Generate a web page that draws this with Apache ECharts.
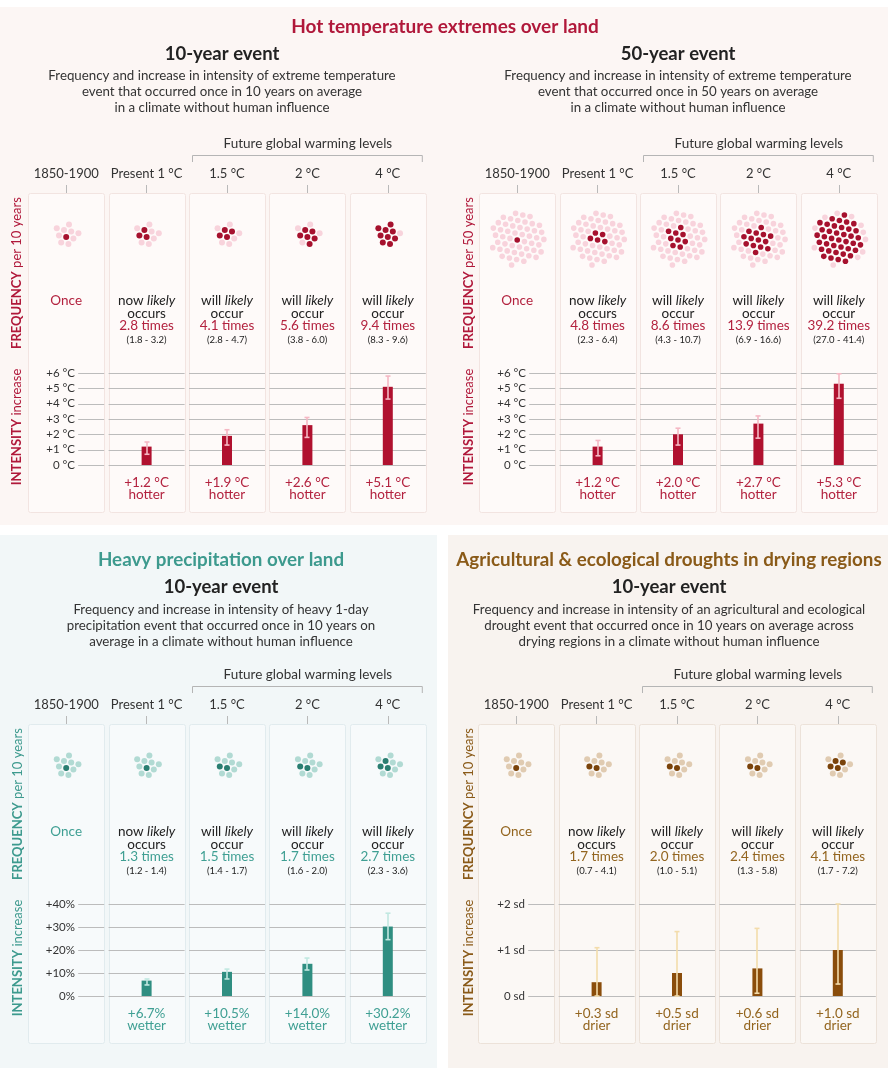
<!DOCTYPE html>
<html><head><meta charset="utf-8">
<script src="https://cdn.jsdelivr.net/npm/echarts@6/dist/echarts.min.js"></script>
<style>html,body{margin:0;padding:0;background:#fff;}#c{width:891px;height:1072px;}</style>
</head><body><div id="c"></div>
<script>
// ---------- DATA ----------
const columns = ['1850-1900', 'Present 1 °C', '1.5 °C', '2 °C', '4 °C'];

// Hot temperature extremes over land, 10-year event
const hot10Freq = [1, 2.8, 4.1, 5.6, 9.4];
const hot10FreqLow = [null, 1.8, 2.8, 3.8, 8.3];
const hot10FreqHigh = [null, 3.2, 4.7, 6.0, 9.6];
const hot10Int = [null, 1.2, 1.9, 2.6, 5.1];
const hot10IntLow = [null, 0.7, 1.3, 1.8, 4.3];
const hot10IntHigh = [null, 1.5, 2.3, 3.1, 5.8];

// Hot temperature extremes over land, 50-year event
const hot50Freq = [1, 4.8, 8.6, 13.9, 39.2];
const hot50FreqLow = [null, 2.3, 4.3, 6.9, 27.0];
const hot50FreqHigh = [null, 6.4, 10.7, 16.6, 41.4];
const hot50Int = [null, 1.2, 2.0, 2.7, 5.3];
const hot50IntLow = [null, 0.6, 1.3, 1.75, 4.35];
const hot50IntHigh = [null, 1.6, 2.4, 3.2, 5.95];

// Heavy precipitation over land, 10-year event
const precipFreq = [1, 1.3, 1.5, 1.7, 2.7];
const precipFreqLow = [null, 1.2, 1.4, 1.6, 2.3];
const precipFreqHigh = [null, 1.4, 1.7, 2.0, 3.6];
const precipInt = [null, 6.7, 10.5, 14.0, 30.2];
const precipIntLow = [null, 4.8, 7.4, 11.3, 24.5];
const precipIntHigh = [null, 7.4, 11.7, 16.5, 36.0];

// Agricultural & ecological droughts, 10-year event
const droughtFreq = [1, 1.7, 2.0, 2.4, 4.1];
const droughtFreqLow = [null, 0.7, 1.0, 1.3, 1.7];
const droughtFreqHigh = [null, 4.1, 5.1, 5.8, 7.2];
const droughtInt = [null, 0.3, 0.5, 0.6, 1.0];
const droughtIntLow = [null, 0.0, 0.0, 0.06, 0.26];
const droughtIntHigh = [null, 1.05, 1.4, 1.47, 2.0];

// Tick values and labels
const tempTicks = [0, 1, 2, 3, 4, 5, 6];
const tempTickLabels = ['0 °C', '+1 °C', '+2 °C', '+3 °C', '+4 °C', '+5 °C', '+6 °C'];
const precipTicks = [0, 10, 20, 30, 40];
const precipTickLabels = ['0%', '+10%', '+20%', '+30%', '+40%'];
const droughtTicks = [0, 1, 2];
const droughtTickLabels = ['0 sd', '+1 sd', '+2 sd'];

// ---------- STYLE / LAYOUT ----------
const FONT = 'Lato';
const red = {accent:'#b3223f', title:'#b0183a', bar:'#b0112f', dark:'#a6112e', light:'#f8d3dc', err:'#f5b8c4', bg:'#fcf6f4', box:'#fefaf9', boxLine:'#f2e4e1'};
const teal = {accent:'#3f9f93', title:'#3d9a8e', bar:'#2f8e81', dark:'#2a7e71', light:'#b1dad3', err:'#c1e8e1', bg:'#f2f7f8', box:'#f7fafb', boxLine:'#e1ebee'};
const brown = {accent:'#93651f', title:'#8a5a18', bar:'#8a4d0b', dark:'#7a430a', light:'#e0cbb1', err:'#f3dcab', bg:'#f8f3ef', box:'#fbf8f5', boxLine:'#ece2d9'};

const W = 402, BOXH = 320;
const panels = [
  {theme:red, left:26, rowTop:193, period:10, freq:hot10Freq, fLo:hot10FreqLow, fHi:hot10FreqHigh, val:hot10Int, lo:hot10IntLow, hi:hot10IntHigh, ticks:tempTicks, tickLabels:tempTickLabels, unit:' °C', word:'hotter', cx:222, sub:'10-year event', subY:54, descY:92,
   desc:'Frequency and increase in intensity of extreme temperature\nevent that occurred once in 10 years on average\nin a climate without human influence', sideX:17, perText:' per 10 years'},
  {theme:red, left:477, rowTop:193, period:50, freq:hot50Freq, fLo:hot50FreqLow, fHi:hot50FreqHigh, val:hot50Int, lo:hot50IntLow, hi:hot50IntHigh, ticks:tempTicks, tickLabels:tempTickLabels, unit:' °C', word:'hotter', cx:678, sub:'50-year event', subY:54, descY:92,
   desc:'Frequency and increase in intensity of extreme temperature\nevent that occurred once in 50 years on average\nin a climate without human influence', sideX:469, perText:' per 50 years'},
  {theme:teal, left:26, rowTop:724, period:10, freq:precipFreq, fLo:precipFreqLow, fHi:precipFreqHigh, val:precipInt, lo:precipIntLow, hi:precipIntHigh, ticks:precipTicks, tickLabels:precipTickLabels, unit:'%', word:'wetter', cx:221, sub:'10-year event', subY:587, descY:626,
   title:'Heavy precipitation over land', titleY:560,
   desc:'Frequency and increase in intensity of heavy 1-day\nprecipitation event that occurred once in 10 years on\naverage in a climate without human influence', sideX:18, perText:' per 10 years'},
  {theme:brown, left:476, rowTop:724, period:10, freq:droughtFreq, fLo:droughtFreqLow, fHi:droughtFreqHigh, val:droughtInt, lo:droughtIntLow, hi:droughtIntHigh, ticks:droughtTicks, tickLabels:droughtTickLabels, unit:' sd', word:'drier', cx:669, sub:'10-year event', subY:587, descY:626,
   title:'Agricultural & ecological droughts in drying regions', titleY:560,
   desc:'Frequency and increase in intensity of an agricultural and ecological\ndrought event that occurred once in 10 years on average across\ndrying regions in a climate without human influence', sideX:469, perText:' per 10 years'}
];

// hexagonal dot cluster layout (sorted from the centre outward)
function clusterLayout(n, s) {
  const pts = [];
  const rot = 0.22;
  for (let a = -9; a <= 9; a++) for (let b = -9; b <= 9; b++) {
    const x0 = s * (a + b / 2), y0 = s * (b * Math.sqrt(3) / 2);
    const x = x0 * Math.cos(rot) - y0 * Math.sin(rot);
    const y = x0 * Math.sin(rot) + y0 * Math.cos(rot);
    pts.push([x, y, Math.round(Math.hypot(x, y) * 100) / 100, Math.atan2(y, x)]);
  }
  pts.sort((p, q) => p[2] - q[2] || p[3] - q[3]);
  return pts.slice(0, n);
}

const grids = [], xAxes = [], yAxes = [], series = [], graphics = [];

graphics.push(
  {type:'rect', z:-5, shape:{x:0, y:7, width:888, height:518}, style:{fill:red.bg}},
  {type:'rect', z:-5, shape:{x:0, y:535, width:437, height:533}, style:{fill:teal.bg}},
  {type:'rect', z:-5, shape:{x:448, y:535, width:440, height:533}, style:{fill:brown.bg}},
  {type:'text', z:5, x:445, y:27, style:{text:'Hot temperature extremes over land', fontFamily:FONT, fontWeight:'bold', fontSize:19, fill:red.title, align:'center', verticalAlign:'middle'}}
);

panels.forEach((p, k) => {
  const th = p.theme;
  const gF = 2 * k, gB = 2 * k + 1;
  const barTop = p.rowTop + 180, barH = 92;
  grids.push({left:p.left, top:p.rowTop, width:W, height:BOXH});
  grids.push({left:p.left, top:barTop, width:W, height:barH});

  xAxes.push({gridIndex:gF, type:'category', data:columns, position:'top', offset:3, z:10,
    axisLine:{show:false}, axisTick:{show:true, alignWithLabel:true, length:8, lineStyle:{color:'#b9b9b9'}},
    axisLabel:{interval:0, margin:10, fontSize:13, fontFamily:FONT, color:'#333'}});
  yAxes.push({gridIndex:gF, type:'value', min:0, max:BOXH, inverse:true, show:false});

  const t0 = p.ticks[0], tN = p.ticks[p.ticks.length - 1];
  xAxes.push({gridIndex:gB, type:'category', data:columns, z:10, axisLine:{show:false}, axisTick:{show:false},
    axisLabel:{interval:0, margin:12, fontSize:13.5, lineHeight:11.5, fontFamily:FONT, color:th.accent,
      formatter:(v, i) => p.val[i] == null ? '' : '+' + p.val[i].toFixed(1) + p.unit + '\n' + p.word}});
  yAxes.push({gridIndex:gB, type:'value', min:t0, max:tN, interval:p.ticks[1] - p.ticks[0], offset:-52, z:10,
    splitLine:{show:false}, axisLine:{show:false}, axisTick:{show:false},
    axisLabel:{margin:3, fontSize:11.5, fontFamily:FONT, color:'#333',
      formatter:v => { const i = p.ticks.indexOf(v); return i >= 0 ? p.tickLabels[i] : ''; }}});

  // column boxes
  series.push({type:'custom', xAxisIndex:gF, yAxisIndex:gF, z:1, silent:true,
    data:columns.map((c, i) => [i, 0]),
    renderItem:(params, api) => {
      const i = api.value(0);
      const a = api.coord([i, 0]), b = api.coord([i, BOXH]);
      const w = api.coord([1, 0])[0] - api.coord([0, 0])[0];
      return {type:'rect', shape:{x:Math.round(a[0] - w / 2 + 2.2) + 0.5, y:a[1] + 0.5, width:Math.round(w - 4.4), height:b[1] - a[1] - 1, r:2},
        style:{fill:th.box, stroke:th.boxLine, lineWidth:1}};
    }});

  // gridlines per column
  const gl = [];
  columns.forEach((c, i) => p.ticks.forEach(t => gl.push([i, t])));
  series.push({type:'custom', xAxisIndex:gB, yAxisIndex:gB, z:2, silent:true, data:gl,
    renderItem:(params, api) => {
      const i = api.value(0), t = api.value(1);
      const c = api.coord([i, t]);
      const w = api.coord([1, 0])[0] - api.coord([0, 0])[0];
      const x2 = c[0] + w / 2 - 2.2;
      const x1 = i === 0 ? x2 - 26 : c[0] - w / 2 + 2.2;
      const y = Math.round(c[1]) + 0.5;
      return {type:'line', shape:{x1, y1:y, x2, y2:y}, style:{stroke:'#bcbcbc', lineWidth:1}};
    }});

  // intensity bars
  series.push({type:'bar', xAxisIndex:gB, yAxisIndex:gB, z:3, silent:true, barWidth:10,
    data:p.val, itemStyle:{color:th.bar}});

  // error bars
  const eb = [];
  p.val.forEach((v, i) => { if (v != null) eb.push([i, p.lo[i], p.hi[i]]); });
  series.push({type:'custom', xAxisIndex:gB, yAxisIndex:gB, z:4, silent:true, data:eb,
    renderItem:(params, api) => {
      const i = api.value(0);
      const t = api.coord([i, api.value(2)]), b = api.coord([i, api.value(1)]);
      const x = Math.round(t[0]);
      const st = {stroke:th.err, lineWidth:1.6};
      return {type:'group', children:[
        {type:'line', shape:{x1:x, y1:t[1], x2:x, y2:b[1]}, style:st},
        {type:'line', shape:{x1:x - 2.5, y1:t[1], x2:x + 2.5, y2:t[1]}, style:st},
        {type:'line', shape:{x1:x - 2.5, y1:b[1], x2:x + 2.5, y2:b[1]}, style:st}
      ]};
    }});

  // frequency dots and text
  const pts = clusterLayout(p.period, 7.4);
  const dotR = p.period === 50 ? 2.8 : 3.0;
  const dotOff = p.period === 50 ? 47 : 44;
  series.push({type:'custom', xAxisIndex:gF, yAxisIndex:gF, z:5, silent:true,
    data:p.freq.map((f, i) => [i, f]),
    renderItem:(params, api) => {
      const i = api.value(0), f = api.value(1);
      const x = api.coord([i, 0])[0];
      const yc = api.coord([i, dotOff])[1];
      const dark = Math.round(f);
      const children = pts.map((q, j) => ({type:'circle', shape:{cx:x + q[0], cy:yc + q[1], r:dotR},
        style:{fill:j < dark ? th.dark : th.light}}));
      const ty = k => api.coord([i, k])[1];
      const base = {fontFamily:FONT, fontSize:13.5, align:'center', verticalAlign:'middle'};
      if (i === 0) {
        children.push({type:'text', style:Object.assign({}, base, {x, y:ty(108), text:'Once', fill:th.accent})});
      } else {
        children.push({type:'text', style:Object.assign({}, base, {x, y:ty(108), fill:'#222',
          text:(i === 1 ? 'now' : 'will') + ' {it|likely}',
          rich:{it:{fontStyle:'italic', fontFamily:FONT, fontSize:13.5, fill:'#222'}}})});
        children.push({type:'text', style:Object.assign({}, base, {x, y:ty(121), fill:'#222', text:i === 1 ? 'occurs' : 'occur'})});
        children.push({type:'text', style:Object.assign({}, base, {x, y:ty(133), fill:th.accent, text:f.toFixed(1) + ' times'})});
        children.push({type:'text', style:Object.assign({}, base, {x, y:ty(147), fill:'#222', fontSize:9.5,
          text:'(' + p.fLo[i].toFixed(1) + ' - ' + p.fHi[i].toFixed(1) + ')'})});
      }
      return {type:'group', children};
    }});

  // panel texts
  if (p.title) {
    graphics.push({type:'text', z:5, x:p.cx, y:p.titleY, style:{text:p.title, fontFamily:FONT, fontWeight:'bold', fontSize:18.8, fill:th.title, align:'center', verticalAlign:'middle'}});
  }
  graphics.push({type:'text', z:5, x:p.cx, y:p.subY, style:{text:p.sub, fontFamily:FONT, fontWeight:'bold', fontSize:18.5, fill:'#222', align:'center', verticalAlign:'middle'}});
  graphics.push({type:'text', z:5, x:p.cx, y:p.descY, style:{text:p.desc, fontFamily:FONT, fontSize:13.3, lineHeight:15.8, fill:'#333', align:'center', verticalAlign:'middle'}});

  const c = i => p.left + W / 10 + i * W / 5;
  const by = p.rowTop - 38;
  graphics.push({type:'text', z:5, x:(c(2) - 34 + c(4) + 35) / 2, y:p.rowTop - 49, style:{text:'Future global warming levels', fontFamily:FONT, fontSize:13.5, fill:'#333', align:'center', verticalAlign:'middle'}});
  graphics.push({type:'polyline', z:5, shape:{points:[[c(2) - 34.5, by + 7], [c(2) - 34.5, by + 0.5], [c(4) + 34.5, by + 0.5], [c(4) + 34.5, by + 7]]}, style:{stroke:'#b5b5b5', lineWidth:1, fill:null}});

  graphics.push({type:'text', z:5, x:p.sideX, y:p.rowTop + 80, rotation:Math.PI / 2,
    style:{text:'{b|FREQUENCY}' + p.perText, fontFamily:FONT, fontSize:13, fill:th.title, align:'center', verticalAlign:'middle',
      rich:{b:{fontWeight:'bold', fontFamily:FONT, fontSize:13, fill:th.title}}}});
  graphics.push({type:'text', z:5, x:p.sideX, y:p.rowTop + 234, rotation:Math.PI / 2,
    style:{text:'{b|INTENSITY} increase', fontFamily:FONT, fontSize:13, fill:th.title, align:'center', verticalAlign:'middle',
      rich:{b:{fontWeight:'bold', fontFamily:FONT, fontSize:13, fill:th.title}}}});
});

const chart = echarts.init(document.getElementById('c'), null, {renderer:'canvas'});
chart.setOption({
  backgroundColor:'#ffffff',
  animation:false,
  textStyle:{fontFamily:FONT},
  grid:grids, xAxis:xAxes, yAxis:yAxes, series:series, graphic:graphics
});
</script>
</body></html>
